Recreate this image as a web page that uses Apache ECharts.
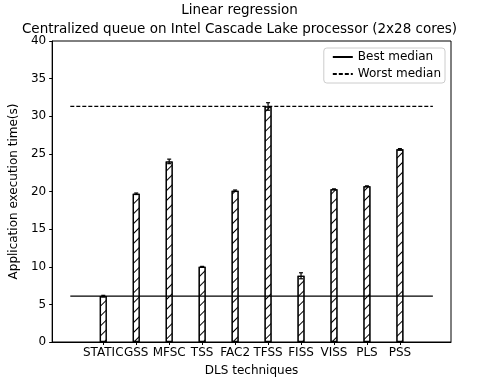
<html>
  <head>
    <meta charset="utf-8">
    <script src="https://cdnjs.cloudflare.com/ajax/libs/echarts/6.0.0/echarts.min.js"></script>
    <style>
      body { margin: 0; background-color: #fff; }
      #chart { width: 479px; height: 385px; }
    </style>
  </head>
  <body>
    <div id="chart"></div>
  </body>
  <script>
    // data
    var techniques = ['STATIC', 'GSS', 'MFSC', 'TSS', 'FAC2', 'TFSS', 'FISS', 'VISS', 'PLS', 'PSS'];
    var times = [6.1, 19.7, 24.0, 10.0, 20.1, 31.3, 8.8, 20.3, 20.7, 25.6];
    var errors = [0.1, 0.1, 0.3, 0.05, 0.1, 0.5, 0.4, 0.05, 0.05, 0.1];
    var bestMedian = 6.1;
    var worstMedian = 31.3;
    var lineSpan = [-1, 10];

    var font = 'DejaVu Sans';
    var positions = techniques.map(function (t, i) { return i; });

    var barData = times.map(function (v, i) { return [i, v]; });
    var errData = times.map(function (v, i) { return [i, v - errors[i], v + errors[i]]; });

    var chartDom = document.getElementById('chart');
    var chart = echarts.init(chartDom);

    var titleStyle = { fontFamily: font, fontWeight: 'normal', fontSize: 13.5, color: '#000' };
    var option = {
        animation: false,
        textStyle: { fontFamily: font, color: '#000' },
        title: [
            { text: 'Linear regression', left: 'center', top: 3, padding: 0, textStyle: titleStyle },
            { text: 'Centralized queue on Intel Cascade Lake processor (2x28 cores)', left: 'center', top: 22, padding: 0, textStyle: titleStyle }
        ],
        legend: {
            orient: 'vertical', right: 34, top: 48,
            backgroundColor: '#fff', borderColor: '#ccc', borderWidth: 1, borderRadius: 3,
            padding: [3, 4, 3, 8], itemGap: 5, itemWidth: 20, itemHeight: 12,
            itemStyle: { opacity: 0 },
            textStyle: { fontFamily: font, fontSize: 12, color: '#000' },
            data: ['Best median', 'Worst median']
        },
        grid: { left: 45, right: 28, top: 41, bottom: 43, show: true, borderColor: '#000', borderWidth: 1 },
        xAxis: {
            type: 'value', min: -1.55, max: 10.55,
            name: 'DLS techniques', nameLocation: 'middle', nameGap: 23,
            nameTextStyle: { fontFamily: font, fontSize: 12, color: '#000' },
            axisLine: { show: true, onZero: false, lineStyle: { color: '#000', width: 1 } },
            splitLine: { show: false },
            axisTick: { show: true, customValues: positions, length: 3, lineStyle: { color: '#000' } },
            axisLabel: {
                customValues: positions, fontSize: 12, color: '#000', margin: 5, fontFamily: font,
                formatter: function (v) { return techniques[Math.round(v)] || ''; }
            }
        },
        yAxis: {
            type: 'value', min: 0, max: 40, interval: 5,
            name: 'Application execution time(s)', nameLocation: 'middle', nameGap: 30,
            nameTextStyle: { fontFamily: font, fontSize: 12, color: '#000' },
            axisLine: { show: true, onZero: false, lineStyle: { color: '#000', width: 1 } },
            splitLine: { show: false },
            axisTick: { show: true, length: 3, lineStyle: { color: '#000' } },
            axisLabel: { fontSize: 12, color: '#000', margin: 6, fontFamily: font }
        },
        series: [
            {
                type: 'bar', name: 'times', data: barData, barWidth: 7,
                itemStyle: {
                    color: '#fff', borderColor: '#000', borderWidth: 1.3,
                    decal: {
                        symbol: 'rect', dashArrayX: [1, 0], dashArrayY: [1, 5.5],
                        rotation: -Math.PI / 4, color: '#000', backgroundColor: '#fff'
                    }
                },
                z: 2
            },
            {
                type: 'custom', name: 'err', data: errData, z: 3,
                renderItem: function (params, api) {
                    var x = api.value(0);
                    var lo = api.coord([x, api.value(1)]);
                    var hi = api.coord([x, api.value(2)]);
                    var cw = 2;
                    var st = { stroke: '#000', lineWidth: 1.2 };
                    return {
                        type: 'group',
                        children: [
                            { type: 'line', shape: { x1: lo[0], y1: lo[1], x2: hi[0], y2: hi[1] }, style: st },
                            { type: 'line', shape: { x1: hi[0] - cw, y1: hi[1], x2: hi[0] + cw, y2: hi[1] }, style: st },
                            { type: 'line', shape: { x1: lo[0] - cw, y1: lo[1], x2: lo[0] + cw, y2: lo[1] }, style: st }
                        ]
                    };
                }
            },
            {
                type: 'line', name: 'Best median', symbol: 'none', z: 4,
                data: [[lineSpan[0], bestMedian], [lineSpan[1], bestMedian]],
                lineStyle: { color: '#000', width: 1.3, type: 'solid' },
                itemStyle: { color: '#000' }
            },
            {
                type: 'line', name: 'Worst median', symbol: 'none', z: 4,
                data: [[lineSpan[0], worstMedian], [lineSpan[1], worstMedian]],
                lineStyle: { color: '#000', width: 1.3, type: [4, 2] },
                itemStyle: { color: '#000' }
            }
        ]
    };
    option && chart.setOption(option);
  </script>
</html>
